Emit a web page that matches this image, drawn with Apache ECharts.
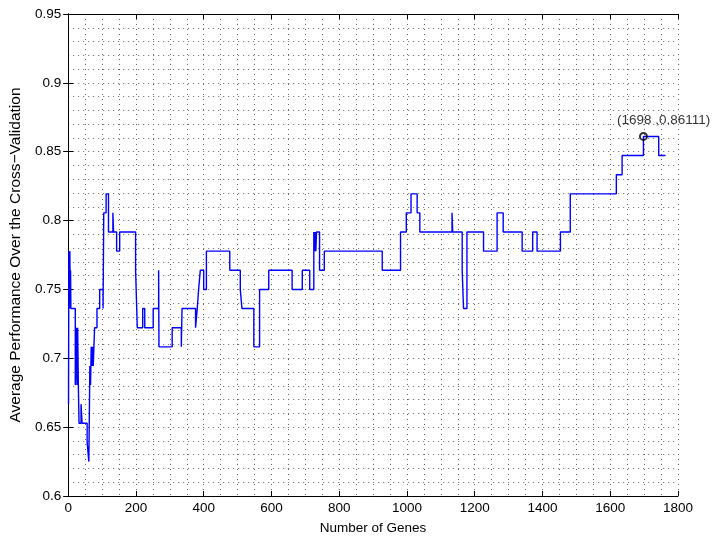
<!DOCTYPE html>
<html>
<head>
<meta charset="utf-8">
<script src="https://cdn.jsdelivr.net/npm/echarts@6/dist/echarts.min.js"></script>
<style>
    html, body { margin: 0; padding: 0; background: #fff; }
    #myChart { width: 716px; height: 540px; }
</style>
</head>
<body>
<div id="myChart"></div>
<script>
// gene count where the level changes, and the level held from there on
const genes = [1, 2, 4, 5, 6, 7, 8, 21, 24, 26, 28, 30, 32, 38, 41, 56, 61, 64, 66, 68, 70, 72, 74, 76, 78, 85, 93, 103,
    105, 112, 119, 132, 134, 143, 152, 199, 204, 220, 226, 251, 267, 268, 307, 334, 336, 376, 381, 385, 390, 400, 408,
    477, 508, 513, 548, 565, 592, 661, 691, 713, 725, 727, 729, 731, 733, 742, 756, 927, 981, 998, 1012, 1030, 1038,
    1133, 1135, 1163, 1167, 1177, 1226, 1266, 1284, 1340, 1371, 1384, 1453, 1482, 1618, 1635, 1698, 1743, 1763]
const perf = [0.6667, 0.7778, 0.7639, 0.7778, 0.7361, 0.7639, 0.7361, 0.6806, 0.7222, 0.6806, 0.7222, 0.6806, 0.6528, 0.6667, 0.6528, 0.6389, 0.625, 0.6944, 0.6806, 0.7083, 0.6944, 0.7083, 0.6944, 0.7083, 0.7222, 0.7361, 0.75, 0.7361,
    0.8056, 0.8194, 0.7917, 0.8056, 0.7917, 0.7778, 0.7917, 0.7639, 0.7222, 0.7361, 0.7222, 0.7361, 0.7639, 0.7083, 0.7222, 0.7083, 0.7361, 0.7222, 0.7361, 0.75, 0.7639, 0.75, 0.7778,
    0.7639, 0.75, 0.7361, 0.7083, 0.75, 0.7639, 0.75, 0.7639, 0.75, 0.7917, 0.7778, 0.7917, 0.7778, 0.7917, 0.7639, 0.7778, 0.7639, 0.7917, 0.8056, 0.8194, 0.8056, 0.7917,
    0.8056, 0.7917, 0.7639, 0.7361, 0.7917, 0.7778, 0.8056, 0.7917, 0.7778, 0.7917, 0.7778, 0.7917, 0.8194, 0.8333, 0.8472, 0.8611, 0.8472, 0.8472]
const best = [1698, 0.86111]
const bestLabel = '(1698 ,0.86111)'

const font = 'Liberation Sans, Arial, sans-serif'
const gridDots = { color: '#666', width: 1, type: [1, 4] }

const myChart = echarts.init(document.getElementById('myChart'))
myChart.setOption({
    animation: false,
    backgroundColor: '#fff',
    textStyle: { fontFamily: font },
    grid: { left: 68, right: 38, top: 14, bottom: 44 },
    xAxis: [{
        type: 'value',
        min: 0,
        max: 1800,
        interval: 200,
        name: 'Number of Genes',
        nameLocation: 'middle',
        nameGap: 25,
        nameTextStyle: { fontSize: 13.5, color: '#000', fontFamily: font },
        axisLine: { show: true, lineStyle: { color: '#000', width: 1 } },
        axisTick: { inside: true, length: 5, lineStyle: { color: '#000' } },
        axisLabel: {
            color: '#000',
            fontSize: 13.5,
            margin: 5,
            fontFamily: font,
            formatter: function (v) { return String(v) }
        },
        splitLine: { show: true, lineStyle: gridDots },
        minorTick: { show: false, splitNumber: 4 },
        minorSplitLine: { show: true, lineStyle: gridDots }
    }, {
        type: 'value',
        position: 'top',
        min: 0,
        max: 1800,
        interval: 200,
        axisLine: { show: true, lineStyle: { color: '#000', width: 1 } },
        axisTick: { inside: true, length: 5, lineStyle: { color: '#000' } },
        axisLabel: { show: false },
        splitLine: { show: false }
    }],
    yAxis: [{
        type: 'value',
        min: 0.6,
        max: 0.95,
        interval: 0.05,
        name: 'Average Performance Over the Cross\u2212Validation',
        nameLocation: 'middle',
        nameGap: 42,
        nameTextStyle: { fontSize: 15.5, color: '#000', fontFamily: font },
        axisLine: { show: true, lineStyle: { color: '#000', width: 1 } },
        axisTick: { inside: true, length: 5, lineStyle: { color: '#000' } },
        axisLabel: {
            color: '#000',
            fontSize: 13.5,
            margin: 7,
            fontFamily: font,
            formatter: function (v) { return String(+v.toFixed(2)) }
        },
        splitLine: { show: true, lineStyle: gridDots },
        minorTick: { show: false, splitNumber: 5 },
        minorSplitLine: { show: true, lineStyle: gridDots }
    }, {
        type: 'value',
        position: 'right',
        min: 0.6,
        max: 0.95,
        interval: 0.05,
        axisLine: { show: true, lineStyle: { color: '#000', width: 1 } },
        axisTick: { inside: true, length: 5, lineStyle: { color: '#000' } },
        axisLabel: { show: false },
        splitLine: { show: false }
    }],
    series: [{
        type: 'line',
        step: 'end',
        symbol: 'none',
        data: genes.map(function (g, i) { return [g, perf[i]] }),
        lineStyle: { color: '#0000ff', width: 1.4 }
    }, {
        type: 'scatter',
        symbol: 'circle',
        symbolSize: 7,
        data: [best],
        itemStyle: { color: 'rgba(255,255,255,0)', borderColor: '#000', borderWidth: 2 },
        label: {
            show: true,
            position: [-22, -19],
            align: 'left',
            verticalAlign: 'top',
            color: '#000',
            fontSize: 13.5,
            fontFamily: font,
            formatter: bestLabel
        },
        z: 5
    }]
})
</script>
</body>
</html>
